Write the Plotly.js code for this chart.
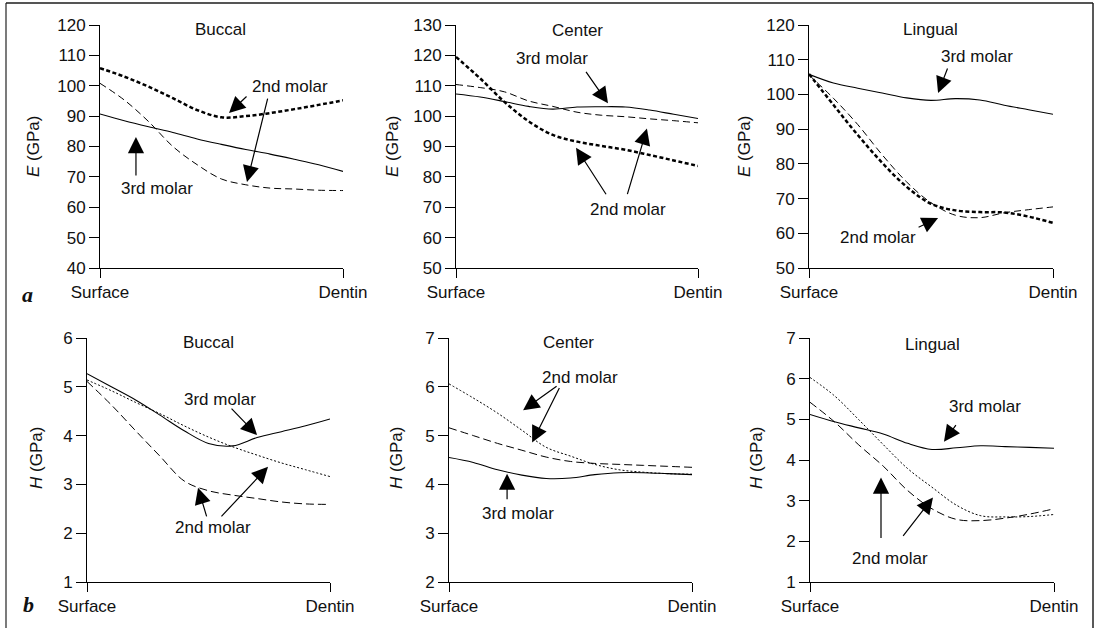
<!DOCTYPE html>
<html>
<head>
<meta charset="utf-8">
<script src="https://cdn.plot.ly/plotly-3.0.1.min.js"></script>
<style>html,body{margin:0;padding:0;background:#fff;}#chart{width:1098px;height:628px;}</style>
</head>
<body>
<div id="chart"></div>
<script>
// ---------- data ----------
const depth = [0, 0.1, 0.2, 0.3, 0.4, 0.5, 0.6, 0.7, 0.8, 0.9, 1.0];
const depthTickVals = [0, 1];
const depthTickText = ["Surface", "Dentin"];

// E (GPa)
const eBuccal3rd  = [90.7, 88.5, 86.5, 84.6, 82.5, 80.7, 79.0, 77.5, 75.8, 74.0, 71.8];
const eBuccal2ndA = [105.8, 103.0, 99.7, 95.9, 92.0, 89.6, 90.0, 91.0, 92.3, 93.7, 95.2];
const eBuccal2ndB = [100.8, 95.3, 88.2, 80.0, 74.0, 69.3, 67.4, 66.3, 66.0, 65.6, 65.5];

const eCenter3rd  = [107.3, 106.3, 104.8, 103.2, 102.3, 103.0, 103.1, 103.0, 102.0, 100.6, 99.2];
const eCenter2ndA = [119.5, 112.4, 104.7, 98.3, 93.8, 91.6, 90.2, 88.9, 87.2, 85.4, 83.6];
const eCenter2ndB = [110.4, 109.4, 108.0, 105.0, 103.2, 101.3, 100.3, 99.8, 99.1, 98.5, 97.8];

const eLingual3rd  = [105.8, 103.3, 101.8, 100.4, 99.0, 98.3, 98.8, 98.4, 96.9, 95.6, 94.3];
const eLingual2ndA = [105.9, 97.0, 88.3, 80.3, 73.4, 68.5, 66.6, 66.1, 66.0, 64.8, 63.0];
const eLingual2ndB = [105.6, 98.9, 91.3, 82.6, 74.8, 68.8, 65.2, 64.5, 65.9, 66.8, 67.6];

// H (GPa)
const hBuccal3rd  = [5.27, 5.00, 4.73, 4.42, 4.10, 3.84, 3.79, 3.96, 4.08, 4.20, 4.34];
const hBuccal2ndA = [5.14, 4.92, 4.68, 4.45, 4.20, 3.97, 3.77, 3.60, 3.44, 3.30, 3.16];
const hBuccal2ndB = [5.11, 4.63, 4.10, 3.58, 3.07, 2.87, 2.78, 2.71, 2.64, 2.60, 2.59];

const hCenter3rd  = [4.55, 4.45, 4.30, 4.19, 4.12, 4.13, 4.20, 4.24, 4.24, 4.22, 4.20];
const hCenter2ndA = [6.06, 5.77, 5.46, 5.11, 4.76, 4.58, 4.41, 4.30, 4.25, 4.22, 4.21];
const hCenter2ndB = [5.16, 5.00, 4.84, 4.70, 4.56, 4.47, 4.43, 4.41, 4.39, 4.37, 4.35];

const hLingual3rd  = [5.12, 4.94, 4.79, 4.64, 4.41, 4.26, 4.30, 4.35, 4.33, 4.31, 4.29];
const hLingual2ndA = [6.03, 5.58, 4.99, 4.38, 3.79, 3.33, 2.89, 2.63, 2.60, 2.61, 2.66];
const hLingual2ndB = [5.42, 4.94, 4.37, 3.85, 3.25, 2.80, 2.54, 2.51, 2.57, 2.67, 2.80];

const regions = ["Buccal", "Center", "Lingual"];
const eRanges = [[40, 120], [50, 130], [50, 120]];
const hRanges = [[1, 6], [2, 7], [1, 7]];

// ---------- styles ----------
const FONT = "Liberation Sans, Arial, Helvetica, sans-serif";
const FS = 17;
const solid = {color: "#000", width: 1.1, shape: "spline", smoothing: 1};
const thickDot = {color: "#000", width: 2.5, dash: "4px,2.5px", shape: "spline", smoothing: 1};
const thinDash = {color: "#000", width: 1, dash: "7px,4px", shape: "spline", smoothing: 1};
const fineDot = {color: "#000", width: 1, dash: "2px,2px", shape: "spline", smoothing: 1};
const longDash = {color: "#000", width: 1, dash: "8px,4px", shape: "spline", smoothing: 1};

function tr(ax, y, line) {
  return {x: depth, y: y, xaxis: "x" + ax, yaxis: "y" + ax, mode: "lines", line: line, hoverinfo: "skip"};
}
const data = [
  tr("", eBuccal3rd, solid), tr("", eBuccal2ndA, thickDot), tr("", eBuccal2ndB, thinDash),
  tr("2", eCenter3rd, solid), tr("2", eCenter2ndA, thickDot), tr("2", eCenter2ndB, thinDash),
  tr("3", eLingual3rd, solid), tr("3", eLingual2ndA, thickDot), tr("3", eLingual2ndB, thinDash),
  tr("4", hBuccal3rd, solid), tr("4", hBuccal2ndA, fineDot), tr("4", hBuccal2ndB, longDash),
  tr("5", hCenter3rd, solid), tr("5", hCenter2ndA, fineDot), tr("5", hCenter2ndB, longDash),
  tr("6", hLingual3rd, solid), tr("6", hLingual2ndA, fineDot), tr("6", hLingual2ndB, longDash)
];

// ---------- layout ----------
const W = 1098, H = 628;
const px = v => v / W, py = v => 1 - v / H;
const xDomains = [[100, 343], [456, 698], [809, 1053], [87, 330], [449, 692], [810, 1054]];
const topRow = [py(268), py(25)];
const botRow = [py(582), py(338)];
const tickFont = {family: FONT, size: FS, color: "#111"};

function xAx(i) {
  return {domain: [px(xDomains[i][0]), px(xDomains[i][1])], anchor: "y" + (i ? i + 1 : ""),
    range: [0, 1], tickvals: depthTickVals, ticktext: depthTickText, ticks: "outside", ticklen: 9,
    tickcolor: "#000", tickwidth: 1, showline: true, linecolor: "#000", linewidth: 1,
    showgrid: false, zeroline: false, fixedrange: true, tickfont: tickFont};
}
function yAx(i, range, dtick) {
  return {domain: i < 3 ? topRow : botRow, anchor: "x" + (i ? i + 1 : ""), range: range, dtick: dtick,
    tick0: 0, ticks: "outside", ticklen: 10, tickcolor: "#000", tickwidth: 1, showline: true,
    linecolor: "#000", linewidth: 1, showgrid: false, zeroline: false, fixedrange: true,
    tickfont: tickFont, ticklabelstandoff: 0};
}

const layout = {
  width: W, height: H, autosize: false, margin: {l: 0, r: 0, t: 0, b: 0},
  paper_bgcolor: "#fff", plot_bgcolor: "rgba(0,0,0,0)", showlegend: false,
  font: {family: FONT, size: FS, color: "#111"},
  xaxis: xAx(0), xaxis2: xAx(1), xaxis3: xAx(2), xaxis4: xAx(3), xaxis5: xAx(4), xaxis6: xAx(5),
  yaxis: yAx(0, eRanges[0], 10), yaxis2: yAx(1, eRanges[1], 10), yaxis3: yAx(2, eRanges[2], 10),
  yaxis4: yAx(3, hRanges[0], 1), yaxis5: yAx(4, hRanges[1], 1), yaxis6: yAx(5, hRanges[2], 1),
  shapes: [
    {type: "line", xref: "paper", yref: "paper", x0: px(6), x1: px(1093), y0: py(3), y1: py(3), line: {color: "#555", width: 2}},
    {type: "line", xref: "paper", yref: "paper", x0: px(6), x1: px(6), y0: py(3), y1: 0, line: {color: "#222", width: 1.2}},
    {type: "line", xref: "paper", yref: "paper", x0: px(1093), x1: px(1093), y0: py(3), y1: 0, line: {color: "#222", width: 1.5}}
  ],
  annotations: []
};

const A = layout.annotations;
function label(ax, x, y, text, extra) {
  A.push(Object.assign({xref: "x" + ax, yref: "y" + ax, x: x, y: y, text: text, showarrow: false,
    font: {family: FONT, size: FS, color: "#111"}, xanchor: "center", yanchor: "middle"}, extra || {}));
}
function arrow(ax, x, y, dx, dy) {
  A.push({xref: "x" + ax, yref: "y" + ax, x: x, y: y, ax: dx, ay: dy, text: "", showarrow: true,
    arrowhead: 2, arrowsize: 2.7, arrowwidth: 1.2, arrowcolor: "#000", standoff: 0, startstandoff: 0});
}
function paperText(x, y, text, angle, font) {
  A.push({xref: "paper", yref: "paper", x: px(x), y: py(y), text: text, showarrow: false, textangle: angle,
    xanchor: "center", yanchor: "middle", font: font || {family: FONT, size: FS, color: "#111"}});
}

// panel titles
label("", 0.494, 118.4, regions[0]);
label("2", 0.5, 128.3, regions[1]);
label("3", 0.496, 118.6, regions[2]);
label("4", 0.498, 5.9, regions[0]);
label("5", 0.49, 6.9, regions[1]);
label("6", 0.504, 6.85, regions[2]);

// y-axis titles
["E", "E", "E"].forEach((s, i) => paperText([33, 392, 744][i], 147, "<i>" + s + "</i> (GPa)", -90));
["H", "H", "H"].forEach((s, i) => paperText([37, 397, 757][i], 458, "<i>" + s + "</i> (GPa)", -90));

// panel letters
const serif = {family: "Liberation Serif, Times New Roman, serif", size: 22, color: "#111"};
paperText(27, 294, "<b><i>a</i></b>", 0, serif);
paperText(28, 604, "<b><i>b</i></b>", 0, serif);

// Panel 1: Buccal E
label("", 0.782, 99.6, "2nd molar");
arrow("", 0.531, 91.0, 19, -18);
arrow("", 0.605, 68.3, 21, -85);
label("", 0.235, 66.3, "3rd molar");
arrow("", 0.148, 83.1, 0, 40);

// Panel 2: Center E
label("2", 0.397, 119.1, "3rd molar");
arrow("2", 0.628, 104.2, -23, -33);
label("2", 0.71, 69.4, "2nd molar");
arrow("2", 0.496, 89.6, 31, 48);
arrow("2", 0.789, 95.9, -20, 67);

// Panel 3: Lingual E
label("3", 0.689, 110.8, "3rd molar");
arrow("3", 0.529, 100.4, 10, -26);
label("3", 0.283, 58.7, "2nd molar");
arrow("3", 0.529, 64.4, -21, 10);

// Panel 4: Buccal H
label("4", 0.547, 4.75, "3rd molar");
arrow("4", 0.70, 4.01, -27, -28);
label("4", 0.519, 2.11, "2nd molar");
arrow("4", 0.457, 2.93, 9, 30);
arrow("4", 0.745, 3.36, -48, 51);

// Panel 5: Center H
label("5", 0.539, 6.2, "2nd molar");
arrow("5", 0.305, 5.52, 35, -25);
arrow("5", 0.342, 4.86, 28, -56);
label("5", 0.284, 3.4, "3rd molar");
arrow("5", 0.239, 4.22, 0, 27);

// Panel 6: Lingual H
label("6", 0.717, 5.31, "3rd molar");
arrow("6", 0.549, 4.45, 13, -18);
label("6", 0.328, 1.59, "2nd molar");
arrow("6", 0.291, 3.57, 0, 62);
arrow("6", 0.504, 3.08, -31, 40);

Plotly.newPlot("chart", data, layout, {staticPlot: true, displayModeBar: false});
</script>
</body>
</html>
